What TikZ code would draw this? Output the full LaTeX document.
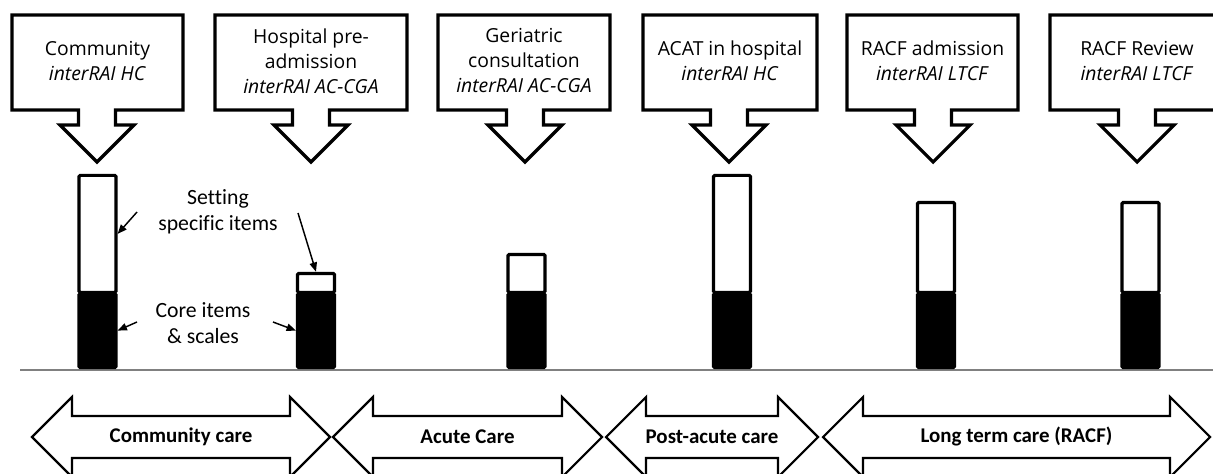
\documentclass[tikz,border=0pt]{standalone}
\usepackage{fontspec}
\setmainfont{Open Sans}
\newfontfamily\calibri[Ligatures=NoCommon]{Carlito}
\usetikzlibrary{arrows.meta}

\tikzset{
	outline/.style={line width=2.4pt, line join=miter},
	careline/.style={line width=1.6pt, line join=miter},
	calltext/.style={align=center, font=\fontsize{14.5}{18.75}\selectfont},
	lbltext/.style={align=center, font=\calibri\fontsize{16.3}{19.5}\selectfont},
	caretext/.style={font=\calibri\bfseries\fontsize{15.7}{18}\selectfont},
	setbar/.style={draw, fill=white, line width=2.4pt, minimum width=27.75pt, inner sep=0pt, anchor=south, rounded corners=1pt},
	corebar/.style={draw, fill=black, line width=2.4pt, minimum width=27.75pt, minimum height=55.5pt, inner sep=0pt, anchor=north, rounded corners=1pt},
	pointer/.style={line width=1.1pt, -{Triangle[length=7pt,width=5.5pt]}},
}

\begin{document}
\begin{tikzpicture}[x=0.75pt, y=-0.75pt]
		\useasboundingbox (0,0) rectangle (1213,474);
		\clip (0,0) rectangle (1213,474);
		% Callout parameters
		\def\stem{18.5}
		\def\head{37}
		\foreach \l/\r/\c/\txt [count=\n] in {
			12/183/97/{Community\\\textit{interRAI HC}},
			215/407/311/{Hospital pre-\\admission\\\textit{interRAI AC-CGA}},
			438/610/525/{Geriatric\\consultation\\\textit{interRAI AC-CGA}},
			643/817/729/{ACAT in hospital\\\textit{interRAI HC}},
			847/1018/933/{RACF admission\\\textit{interRAI LTCF}},
			1050/1224/1137/{RACF Review\\\textit{interRAI LTCF}}} {
			% Box with its arrow
			\draw[outline] (\l,15) -- (\r,15) -- (\r,110) -- (\c+\stem,110) -- (\c+\stem,125)
				-- (\c+\head,125) -- (\c,162) -- (\c-\head,125) -- (\c-\stem,125) -- (\c-\stem,110) -- (\l,110) -- cycle;
			\node[calltext] (box\n) at ({(\l+\r)/2},61) {\txt};
		}
		
		% Baseline
		\draw[line width=1.5pt, gray] (20,370) -- (1213,370);
		
		% Bars: setting specific part on top of the core part
		\foreach \x/\top [count=\n] in {97.5/176, 316/274, 526.5/255, 732/176, 936/203, 1140.5/203} {
			\pgfmathsetmacro{\h}{(293-\top)*0.75}
			\node[setbar, minimum height=\h pt] (spec\n) at (\x,294) {};
			\node[corebar] (core\n) at (\x,292) {};
		}
		
		% Legend
		\node[lbltext] (setlbl) at (218,212) {Setting\\specific items};
		\node[lbltext] (corelbl) at (203,323) {Core items\\\& scales};
		\coordinate (sa) at (137,212);
		\coordinate (sb) at (298,213);
		\coordinate (ca) at (137,322);
		\coordinate (cb) at (273,322);
		\draw[pointer] (sa) -- (spec1.east);
		\draw[pointer] (sb) -- (spec2.north);
		\draw[pointer] (ca) -- (core1.east);
		\draw[pointer] (cb) -- (core2.west);
		
		% Care settings
		\foreach \a/\b/\txt [count=\n] in {32/330/Community care, 333/602/Acute Care, 606/818/Post-acute care, 823/1210/Long term care (RACF)} {
			\draw[careline] (\a,437) -- (\a+40,397) -- (\a+40,416) -- (\b-40,416) -- (\b-40,397) -- (\b,437)
				-- (\b-40,477) -- (\b-40,458) -- (\a+40,458) -- (\a+40,477) -- cycle;
			\node[caretext] (care\n) at ({(\a+\b)/2},437) {\txt};
		}
		\end{tikzpicture}
\end{document}
